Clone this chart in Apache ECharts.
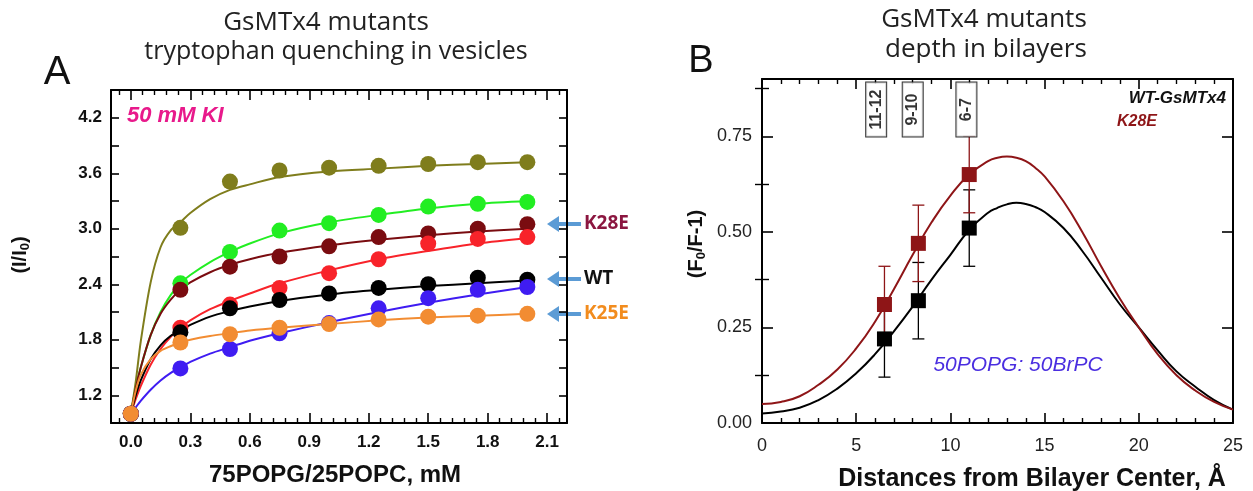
<!DOCTYPE html>
<html><head><meta charset="utf-8">
<script src="https://cdn.jsdelivr.net/npm/echarts@6/dist/echarts.min.js"></script>
<style>html,body{margin:0;padding:0;background:#fff}#c{width:1253px;height:491px}</style>
</head><body><div id="c"></div>
<script>
// ---------- Panel A data ----------
const concX = [0, 0.25, 0.5, 0.75, 1.0, 1.25, 1.5, 1.75, 2.0];
const olivePts  = [1.0, 3.01, 3.51, 3.63, 3.66, 3.68, 3.70, 3.72, 3.72];
const greenPts  = [1.0, 2.41, 2.75, 2.98, 3.06, 3.15, 3.24, 3.27, 3.29];
const maroonPts = [1.0, 2.34, 2.59, 2.70, 2.81, 2.91, 2.95, 3.00, 3.05];
const redPts    = [1.0, 1.93, 2.18, 2.36, 2.52, 2.67, 2.84, 2.89, 2.91];
const blackPts  = [1.0, 1.88, 2.14, 2.23, 2.30, 2.36, 2.40, 2.47, 2.45];
const bluePts   = [1.0, 1.49, 1.70, 1.87, 1.98, 2.14, 2.25, 2.34, 2.37];
const orangePts = [1.0, 1.77, 1.86, 1.93, 1.97, 2.02, 2.05, 2.06, 2.08];

const fitX = [0, 0.025, 0.05, 0.1, 0.15, 0.2, 0.25, 0.3, 0.4, 0.5, 0.6, 0.75, 1.0, 1.25, 1.5, 1.75, 2.0];
const oliveFit  = [1.0, 1.35, 1.78, 2.42, 2.80, 2.98, 3.07, 3.17, 3.32, 3.42, 3.48, 3.56, 3.62, 3.65, 3.68, 3.70, 3.72];
const greenFit  = [1.0, 1.28, 1.50, 1.85, 2.10, 2.28, 2.41, 2.50, 2.64, 2.75, 2.84, 2.95, 3.07, 3.15, 3.22, 3.27, 3.30];
const maroonFit = [1.0, 1.28, 1.50, 1.85, 2.08, 2.23, 2.34, 2.42, 2.53, 2.61, 2.67, 2.74, 2.82, 2.88, 2.93, 2.97, 3.00];
const redFit    = [1.0, 1.16, 1.30, 1.53, 1.70, 1.83, 1.93, 2.01, 2.13, 2.22, 2.30, 2.41, 2.55, 2.67, 2.76, 2.84, 2.90];
const blackFit  = [1.0, 1.20, 1.36, 1.59, 1.74, 1.84, 1.90, 1.96, 2.05, 2.11, 2.16, 2.22, 2.29, 2.34, 2.38, 2.41, 2.44];
const blueFit   = [1.0, 1.07, 1.14, 1.26, 1.36, 1.44, 1.50, 1.56, 1.65, 1.72, 1.79, 1.87, 1.99, 2.10, 2.20, 2.29, 2.37];
const orangeFit = [1.0, 1.25, 1.42, 1.59, 1.68, 1.73, 1.77, 1.80, 1.84, 1.87, 1.90, 1.93, 1.97, 2.01, 2.04, 2.06, 2.08];

const concTickLabels = [0, 0.3, 0.6, 0.9, 1.2, 1.5, 1.8, 2.1];
const ratioTicks = [1.2, 1.5, 1.8, 2.1, 2.4, 2.7, 3.0, 3.3, 3.6, 3.9, 4.2];
const ratioTickLabels = [1.2, 1.8, 2.4, 3.0, 3.6, 4.2];

// ---------- Panel B data ----------
const distX = [6.5, 8.3, 11.0];
const wtVals  = [0.22, 0.32, 0.51];
const k28Vals = [0.31, 0.47, 0.65];
const wtErr   = [0.10, 0.10, 0.10];
const k28Err  = [0.10, 0.10, 0.10];
const curveX   = [0,1,2,3,4,5,6,7,8,9,10,11,12,12.5,13,13.5,14,14.5,15,16,17,18,19,20,21,22,23,24,25];
const wtCurve  = [0.025,0.03,0.04,0.06,0.09,0.13,0.18,0.24,0.305,0.375,0.44,0.505,0.55,0.563,0.572,0.576,0.573,0.565,0.552,0.51,0.45,0.38,0.31,0.25,0.19,0.135,0.095,0.06,0.035];
const k28Curve = [0.05,0.055,0.07,0.10,0.14,0.195,0.265,0.35,0.44,0.525,0.595,0.65,0.685,0.694,0.697,0.694,0.685,0.668,0.645,0.58,0.50,0.41,0.325,0.25,0.18,0.125,0.085,0.055,0.035];
const boxX = [6.06, 8.0, 10.85];
const boxText = ['11-12', '9-10', '6-7'];
const depthTickLabels = [0, 0.25, 0.5, 0.75];
const depthMinorTicks = [0.125, 0.375, 0.625, 0.875];

// ---------- styling ----------
const NARROW = "'Liberation Sans Narrow','Liberation Sans',Arial,sans-serif";
const ARIAL = "'Liberation Sans',Arial,sans-serif";
const CAL = "'Open Sans','Noto Sans',sans-serif";
const C = {olive:'#7f7d1c', green:'#22ee22', maroon:'#7a0c10', red:'#f8232a', black:'#000000', blue:'#3f1cf2', orange:'#f28c32'};
const B_RED = '#8e1517';

const concMinor = [];
for (let i = -1; i <= 36; i++) { const v = +(i*0.06).toFixed(2); if (i % 5 !== 0 && v < 2.2 && v > -0.1) concMinor.push(v); }

function pair(xs, ys){ return xs.map((x,i)=>[x, ys[i]]); }

const groupsA = [
  ['olive', olivePts, oliveFit], ['green', greenPts, greenFit], ['maroon', maroonPts, maroonFit],
  ['red', redPts, redFit], ['black', blackPts, blackFit], ['blue', bluePts, blueFit], ['orange', orangePts, orangeFit]
];
const series = [];
groupsA.forEach(([k, pts, fit]) => {
  series.push({type:'line', xAxisIndex:0, yAxisIndex:0, data: pair(fitX, fit), smooth:0.3,
    showSymbol:false, lineStyle:{color:C[k], width:2}, silent:true, z:2});
  series.push({type:'scatter', xAxisIndex:0, yAxisIndex:0, data: pair(concX, pts), symbolSize:16,
    itemStyle:{color:C[k], opacity:1}, silent:true, z:3});
});

function errRender(color){
  return function(params, api){
    const x = api.value(0), lo = api.value(1), hi = api.value(2);
    const a = api.coord([x, lo]), b = api.coord([x, hi]);
    const w = 6;
    const st = {stroke: color, lineWidth: 1.3};
    return {type:'group', children:[
      {type:'line', shape:{x1:a[0],y1:a[1],x2:b[0],y2:b[1]}, style:st},
      {type:'line', shape:{x1:a[0]-w,y1:a[1],x2:a[0]+w,y2:a[1]}, style:st},
      {type:'line', shape:{x1:b[0]-w,y1:b[1],x2:b[0]+w,y2:b[1]}, style:st}
    ]};
  };
}
series.push({type:'custom', xAxisIndex:4, yAxisIndex:2, renderItem: errRender('#000'),
  data: distX.map((x,i)=>[x, wtVals[i]-wtErr[i], wtVals[i]+wtErr[i]]), z:2, silent:true});
series.push({type:'custom', xAxisIndex:4, yAxisIndex:2, renderItem: errRender(B_RED),
  data: distX.map((x,i)=>[x, k28Vals[i]-k28Err[i], k28Vals[i]+k28Err[i]]), z:2, silent:true});
series.push({type:'line', xAxisIndex:4, yAxisIndex:2, data: pair(curveX, wtCurve), smooth:0.5,
  showSymbol:false, lineStyle:{color:'#000', width:2}, z:3, silent:true});
series.push({type:'line', xAxisIndex:4, yAxisIndex:2, data: pair(curveX, k28Curve), smooth:0.5,
  showSymbol:false, lineStyle:{color:B_RED, width:2}, z:3, silent:true});
series.push({type:'scatter', xAxisIndex:4, yAxisIndex:2, data: pair(distX, wtVals), symbol:'rect', symbolSize:15,
  itemStyle:{color:'#000', opacity:1}, z:4, silent:true});
series.push({type:'scatter', xAxisIndex:4, yAxisIndex:2, data: pair(distX, k28Vals), symbol:'rect', symbolSize:15,
  itemStyle:{color:B_RED, opacity:1}, z:4, silent:true});
series.push({type:'scatter', xAxisIndex:4, yAxisIndex:2, data: boxX.map((x,i)=>({value:[x, 0.82], name: boxText[i]})),
  symbolSize:0, z:5, silent:true,
  label:{show:true, position:'inside', rotate:90, formatter:p=>p.name, fontFamily:ARIAL, fontWeight:'bold', fontSize:16,
    color:'#000', backgroundColor:'#fff', borderColor:'#000', borderWidth:1, padding:[3,7,1,7], width:40, align:'center'}});

const lineBlack = {show:true, onZero:false, lineStyle:{color:'#000', width:2}};
const noLine = {show:false};
function xA(grid, pos, opts){ return Object.assign({type:'value', gridIndex:grid, position:pos, splitLine:{show:false}}, opts); }

const option = {
  animation:false,
  grid:[
    {left:111, top:90, width:456, height:333},
    {left:762, top:79, width:471, height:344}
  ],
  xAxis:[
    xA(0,'bottom',{min:-0.1, max:2.2, axisLine:lineBlack,
      axisTick:{inside:true, length:10, customValues:concTickLabels, lineStyle:{color:'#000', width:1.6}},
      axisLabel:{customValues:concTickLabels, formatter:v=>(+v).toFixed(1), fontFamily:NARROW, fontWeight:'bold', fontSize:17, color:'#111', margin:11}}),
    xA(0,'bottom',{min:-0.1, max:2.2, axisLine:noLine,
      axisTick:{inside:true, length:5, customValues:concMinor, lineStyle:{color:'#000', width:1.4}}, axisLabel:{show:false}}),
    xA(0,'top',{min:-0.1, max:2.2, axisLine:lineBlack,
      axisTick:{inside:true, length:10, customValues:concTickLabels, lineStyle:{color:'#000', width:1.6}}, axisLabel:{show:false}}),
    xA(0,'top',{min:-0.1, max:2.2, axisLine:noLine,
      axisTick:{inside:true, length:5, customValues:concMinor, lineStyle:{color:'#000', width:1.4}}, axisLabel:{show:false}}),
    xA(1,'bottom',{min:0, max:25, interval:5, axisLine:lineBlack,
      axisTick:{inside:true, length:10, lineStyle:{color:'#000', width:1.6}},
      minorTick:{show:true, splitNumber:5, length:5, lineStyle:{color:'#000', width:1.4}},
      axisLabel:{fontFamily:ARIAL, fontSize:18, color:'#222', margin:14}}),
    xA(1,'top',{min:0, max:25, interval:5, axisLine:lineBlack,
      axisTick:{inside:true, length:10, lineStyle:{color:'#000', width:1.6}},
      minorTick:{show:true, splitNumber:5, length:5, lineStyle:{color:'#000', width:1.4}},
      axisLabel:{show:false}})
  ],
  yAxis:[
    {type:'value', gridIndex:0, position:'left', min:0.9, max:4.5, axisLine:lineBlack, splitLine:{show:false},
      axisTick:{inside:true, length:8, customValues:ratioTicks, lineStyle:{color:'#000', width:1.6}},
      axisLabel:{customValues:ratioTickLabels, formatter:v=>(+v).toFixed(1), fontFamily:NARROW, fontWeight:'bold', fontSize:17, color:'#111', margin:9}},
    {type:'value', gridIndex:0, position:'right', min:0.9, max:4.5, axisLine:lineBlack, splitLine:{show:false},
      axisTick:{inside:true, length:8, customValues:ratioTicks, lineStyle:{color:'#000', width:1.6}}, axisLabel:{show:false}},
    {type:'value', gridIndex:1, position:'left', min:0, max:0.9, axisLine:lineBlack, splitLine:{show:false},
      axisTick:{inside:true, length:11, customValues:depthTickLabels, lineStyle:{color:'#000', width:1.6}},
      axisLabel:{customValues:depthTickLabels, formatter:v=>(+v).toFixed(2), fontFamily:ARIAL, fontSize:18, color:'#222', margin:10}},
    {type:'value', gridIndex:1, position:'left', min:0, max:0.9, axisLine:noLine, splitLine:{show:false},
      axisTick:{inside:true, length:7, customValues:depthMinorTicks, lineStyle:{color:'#000', width:1.4}}, axisLabel:{show:false}},
    {type:'value', gridIndex:1, position:'right', min:0, max:0.9, axisLine:lineBlack, splitLine:{show:false},
      axisTick:{inside:true, length:11, customValues:depthTickLabels, lineStyle:{color:'#000', width:1.6}}, axisLabel:{show:false}},
    {type:'value', gridIndex:1, position:'right', min:0, max:0.9, axisLine:noLine, splitLine:{show:false},
      axisTick:{inside:true, length:7, customValues:depthMinorTicks, lineStyle:{color:'#000', width:1.4}}, axisLabel:{show:false}}
  ],
  series: series,
  graphic: []
};

function txt(x, y, text, font, fill, align, valign, extra){
  return Object.assign({type:'text', x:x, y:y, silent:true, z:100,
    style:Object.assign({text:text, font:font, fill:fill, textAlign:align||'left', textVerticalAlign:valign||'middle', align:align||'left', verticalAlign:valign||'middle'}, (extra&&extra.style)||{})},
    extra&&extra.el||{});
}
function arrow(xTip, y, len, color){
  return {type:'group', silent:true, z:100, children:[
    {type:'line', shape:{x1:xTip+8, y1:y, x2:xTip+len, y2:y}, style:{stroke:color, lineWidth:4}},
    {type:'polygon', shape:{points:[[xTip,y],[xTip+12,y-8],[xTip+12,y+8]]}, style:{fill:color}}
  ]};
}
const G = option.graphic;
G.push(txt(57, 73, 'A', "40px "+ARIAL, '#111', 'center', 'middle'));
G.push(txt(701, 62, 'B', "38px "+ARIAL, '#111', 'center', 'middle'));
G.push(txt(326, 23, 'GsMTx4 mutants', "26px "+CAL, '#222', 'center', 'middle'));
G.push(txt(336, 52, 'tryptophan quenching in vesicles', "25px "+CAL, '#222', 'center', 'middle'));
G.push(txt(984, 20, 'GsMTx4 mutants', "26px "+CAL, '#222', 'center', 'middle'));
G.push(txt(986, 50, 'depth in bilayers', "26px "+CAL, '#222', 'center', 'middle'));
G.push(txt(127, 116, '50 mM KI', "italic bold 22px "+NARROW, '#e8198b', 'left', 'middle'));
G.push(txt(335, 475, '75POPG/25POPC, mM', "bold 24px "+NARROW, '#111', 'center', 'middle'));
G.push(txt(20, 255, '(I/I{s|0})', "bold 20px "+ARIAL, '#111', 'center', 'middle',
  {el:{rotation:Math.PI/2}, style:{rich:{s:{font:"bold 13px "+ARIAL, fill:'#111', padding:[10,0,0,0]}}}}));
G.push(txt(696, 244, '(F{s|0}/F-1)', "bold 20px "+ARIAL, '#111', 'center', 'middle',
  {el:{rotation:Math.PI/2}, style:{rich:{s:{font:"bold 13px "+ARIAL, fill:'#111', padding:[10,0,0,0]}}}}));
G.push(txt(1032, 479, 'Distances from Bilayer Center, Å', "bold 25px "+ARIAL, '#111', 'center', 'middle'));
G.push(txt(1018, 365, '50POPG: 50BrPC', "italic 21px "+ARIAL, '#4a2ee0', 'center', 'middle'));
G.push(txt(1226, 98, 'WT-GsMTx4', "italic bold 17px "+ARIAL, '#111', 'right', 'middle'));
G.push(txt(1117, 122, 'K28E', "italic bold 16px "+ARIAL, B_RED, 'left', 'middle'));
const ARW = '#5b9bd5';
G.push(arrow(547, 224, 34, ARW));
G.push(arrow(547, 279, 34, ARW));
G.push(arrow(547, 314, 34, ARW));
G.push(txt(584, 224, 'K28E', "bold 19px "+CAL, '#8b1640', 'left', 'middle'));
G.push(txt(584, 279, 'WT', "bold 19px "+CAL, '#111', 'left', 'middle'));
G.push(txt(584, 314, 'K25E', "bold 19px "+CAL, '#f28c1e', 'left', 'middle'));

const chart = echarts.init(document.getElementById('c'), null, {renderer:'canvas'});
chart.setOption(option);
</script></body></html>
